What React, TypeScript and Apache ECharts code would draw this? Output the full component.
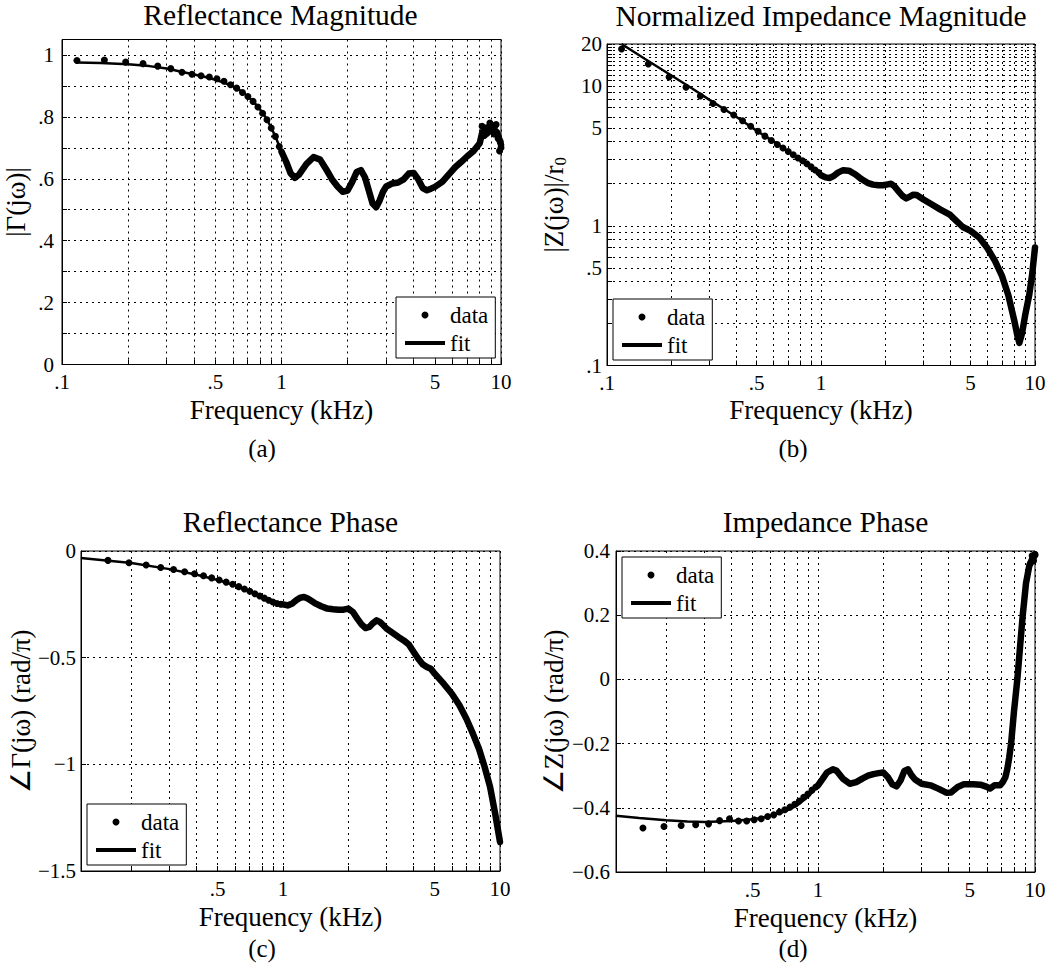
import React, { useEffect, useRef } from "react";
import * as echarts from "echarts";

const FONT = "Liberation Serif";

// ---------- shared frequency axis ----------
const freqGridTicks = [0.1, 0.2, 0.3, 0.4, 0.5, 0.6, 0.7, 0.8, 0.9, 1, 2, 3, 4, 5, 6, 7, 8, 9, 10];
const freqTickLabels = [0.1, 0.5, 1, 5, 10];
const lowDotFreq = [0.117, 0.156, 0.195, 0.234, 0.273, 0.313, 0.352, 0.391, 0.43, 0.469, 0.508, 0.547, 0.586, 0.625, 0.664, 0.703, 0.742, 0.781, 0.82, 0.859, 0.898, 0.938, 0.977];

// ---------- (a) Reflectance magnitude ----------
const aDotFreq = [...lowDotFreq, 8.2, 8.4, 8.6, 8.9, 9.1, 9.3, 9.5, 9.7, 9.85, 9.92, 10.0];
const aDotVal = [0.982, 0.984, 0.977, 0.972, 0.964, 0.956, 0.944, 0.938, 0.933, 0.929, 0.923, 0.915, 0.904, 0.893, 0.879, 0.866, 0.850, 0.832, 0.812, 0.791, 0.764, 0.737, 0.704,
  0.77, 0.74, 0.765, 0.78, 0.77, 0.745, 0.775, 0.73, 0.69, 0.72, 0.70];
const aFitFreq = [0.117, 0.15, 0.2, 0.25, 0.3, 0.35, 0.4, 0.45, 0.5, 0.55, 0.6, 0.65, 0.7, 0.75, 0.8, 0.85, 0.9, 0.95];
const aFitVal = [0.976, 0.974, 0.970, 0.964, 0.956, 0.946, 0.937, 0.929, 0.920, 0.910, 0.899, 0.885, 0.867, 0.847, 0.823, 0.797, 0.764, 0.727];
const aDenseFreq = [1.0, 1.05, 1.1, 1.15, 1.2, 1.3, 1.4, 1.5, 1.6, 1.7, 1.8, 1.9, 2.0, 2.1, 2.2, 2.3, 2.4, 2.5, 2.6, 2.7, 2.8, 2.9, 3.0, 3.2, 3.4, 3.6, 3.8, 4.0, 4.2, 4.4, 4.6, 4.8, 5.0, 5.4, 5.8, 6.2, 6.6, 7.0, 7.5, 8.0, 8.2, 8.4, 8.6, 8.8, 9.0, 9.2, 9.4, 9.6, 9.8, 10.0];
const aDenseVal = [0.688, 0.655, 0.618, 0.603, 0.613, 0.648, 0.670, 0.662, 0.630, 0.598, 0.575, 0.558, 0.562, 0.590, 0.622, 0.628, 0.605, 0.562, 0.520, 0.508, 0.530, 0.558, 0.575, 0.585, 0.588, 0.598, 0.617, 0.619, 0.598, 0.570, 0.563, 0.568, 0.574, 0.590, 0.615, 0.638, 0.655, 0.672, 0.690, 0.715, 0.748, 0.760, 0.745, 0.752, 0.768, 0.772, 0.755, 0.750, 0.730, 0.710];
const aYTicks = [0, 0.1, 0.2, 0.3, 0.4, 0.5, 0.6, 0.7, 0.8, 0.9, 1.0];
const aYLabels = [0, 0.2, 0.4, 0.6, 0.8, 1];

// ---------- (b) Normalized impedance magnitude ----------
const bDotFreq = [...lowDotFreq];
const bDotVal = [18.4, 14.4, 11.6, 9.8, 8.5, 7.5, 6.8, 6.2, 5.65, 5.15, 4.75, 4.38, 4.08, 3.82, 3.6, 3.4, 3.22, 3.06, 2.92, 2.78, 2.64, 2.51, 2.4];
const bFitFreq = [0.117, 0.15, 0.2, 0.25, 0.3, 0.4, 0.5, 0.6, 0.7, 0.8, 0.9];
const bFitVal = [20.0, 15.7, 11.9, 9.6, 8.0, 6.05, 4.8, 4.0, 3.42, 2.98, 2.62];
const bDenseFreq = [1.0, 1.05, 1.1, 1.15, 1.2, 1.27, 1.35, 1.45, 1.55, 1.65, 1.75, 1.85, 1.95, 2.05, 2.12, 2.2, 2.3, 2.4, 2.5, 2.6, 2.7, 2.8, 3.0, 3.3, 3.6, 4.0, 4.3, 4.6, 5.0, 5.5, 6.0, 6.5, 7.0, 7.5, 8.0, 8.3, 8.45, 8.7, 9.0, 9.4, 9.7, 10.0];
const bDenseVal = [2.3, 2.22, 2.2, 2.28, 2.4, 2.5, 2.48, 2.33, 2.15, 2.03, 1.97, 1.95, 1.95, 1.98, 2.0, 1.92, 1.77, 1.64, 1.57, 1.62, 1.67, 1.66, 1.55, 1.42, 1.31, 1.2, 1.08, 0.98, 0.92, 0.82, 0.69, 0.56, 0.44, 0.32, 0.21, 0.16, 0.145, 0.17, 0.23, 0.32, 0.45, 0.7];
const bYTicks = [0.1, 0.2, 0.3, 0.4, 0.5, 0.6, 0.7, 0.8, 0.9, 1, 2, 3, 4, 5, 6, 7, 8, 9, 10, 11, 12, 13, 14, 15, 16, 17, 18, 19, 20];
const bYLabels = [0.1, 0.5, 1, 5, 10, 20];

// ---------- (c) Reflectance phase ----------
const cDotFreq = [...lowDotFreq];
const cDotVal = [-0.033, -0.044, -0.055, -0.066, -0.077, -0.087, -0.097, -0.107, -0.116, -0.126, -0.136, -0.146, -0.156, -0.167, -0.178, -0.189, -0.2, -0.211, -0.221, -0.231, -0.239, -0.246, -0.25];
const cFitFreq = [0.117, 0.2, 0.3, 0.4, 0.5, 0.6, 0.7, 0.8, 0.9];
const cFitVal = [-0.033, -0.056, -0.085, -0.111, -0.136, -0.161, -0.188, -0.214, -0.236];
const cDenseFreq = [1.0, 1.05, 1.1, 1.15, 1.2, 1.25, 1.3, 1.4, 1.5, 1.6, 1.7, 1.8, 1.9, 2.0, 2.1, 2.2, 2.3, 2.4, 2.5, 2.6, 2.7, 2.8, 2.9, 3.0, 3.2, 3.4, 3.6, 3.8, 4.0, 4.2, 4.4, 4.6, 4.8, 5.0, 5.5, 6.0, 6.5, 7.0, 7.5, 8.0, 8.5, 9.0, 9.5, 10.0];
const cDenseVal = [-0.25, -0.255, -0.247, -0.231, -0.219, -0.216, -0.223, -0.244, -0.259, -0.27, -0.273, -0.275, -0.275, -0.27, -0.286, -0.317, -0.344, -0.361, -0.356, -0.338, -0.325, -0.333, -0.348, -0.364, -0.384, -0.403, -0.419, -0.438, -0.473, -0.505, -0.531, -0.544, -0.552, -0.575, -0.622, -0.669, -0.723, -0.786, -0.856, -0.927, -1.013, -1.106, -1.231, -1.364];
const cYTicks = [-1.5, -1, -0.5, 0];

// ---------- (d) Impedance phase ----------
const dDotFreq = [...lowDotFreq, 9.5, 9.7, 9.85, 10.0];
const dDotVal = [-0.448, -0.463, -0.458, -0.455, -0.453, -0.45, -0.44, -0.434, -0.441, -0.441, -0.437, -0.434, -0.427, -0.422, -0.413, -0.406, -0.398, -0.389, -0.379, -0.367, -0.357, -0.345, -0.335,
  0.36, 0.385, 0.37, 0.39];
const dFitFreq = [0.117, 0.15, 0.2, 0.25, 0.3, 0.4, 0.5, 0.6, 0.7, 0.8, 0.9];
const dFitVal = [-0.425, -0.432, -0.439, -0.443, -0.444, -0.441, -0.436, -0.426, -0.412, -0.393, -0.366];
const dDenseFreq = [1.0, 1.05, 1.1, 1.17, 1.22, 1.3, 1.4, 1.5, 1.6, 1.7, 1.8, 1.9, 2.0, 2.1, 2.2, 2.3, 2.4, 2.5, 2.6, 2.7, 2.8, 3.0, 3.3, 3.6, 3.9, 4.1, 4.4, 4.7, 5.2, 5.6, 6.0, 6.2, 6.5, 6.9, 7.1, 7.3, 7.45, 7.6, 7.76, 8.0, 8.29, 8.53, 8.78, 9.09, 9.42, 9.7, 10.0];
const dDenseVal = [-0.33, -0.31, -0.29, -0.28, -0.285, -0.309, -0.325, -0.32, -0.309, -0.3, -0.295, -0.292, -0.29, -0.305, -0.327, -0.333, -0.315, -0.285, -0.28, -0.299, -0.312, -0.325, -0.33, -0.341, -0.353, -0.352, -0.335, -0.327, -0.327, -0.328, -0.335, -0.34, -0.33, -0.33, -0.32, -0.305, -0.28, -0.245, -0.2, -0.1, 0.0, 0.1, 0.2, 0.3, 0.355, 0.375, 0.386];
const dYTicks = [-0.6, -0.4, -0.2, 0, 0.2, 0.4];

// ---------- text ----------
const titles = ["Reflectance Magnitude", "Normalized Impedance Magnitude", "Reflectance Phase", "Impedance Phase"];
const subLabels = ["(a)", "(b)", "(c)", "(d)"];
const xName = "Frequency (kHz)";
const yNames = ["|Γ(jω)|", "|Z(jω)|/r{sub|0}", "∠Γ(jω) (rad/π)", "∠Z(jω) (rad/π)"];

const zip = (xs: number[], ys: number[]) => xs.map((x, i) => [x, ys[i]]);
const fmtDotless = (v: number) => {
  if (v === 0) return "0";
  const s = String(+v.toFixed(4));
  return s.replace(/^0\./, ".");
};
const fmtSigned = (v: number) => {
  const a = Math.abs(+v.toFixed(4));
  return v < 0 ? "\u2212" + String(a) : String(a);
};

type Panel = {
  grid: { left: number; top: number; width: number; height: number };
  xMin: number;
  yType: string;
  yMin: number;
  yMax: number;
  yTicks: number[];
  yLabels: number[];
  yFmt: (v: number) => string;
  yNameGap: number;
  yLabelMargin: number;
  xNameGap: number;
  dot: number[][];
  dense: number[][];
  fit: number[][];
  legend: { left: number; top: number };
  title: [number, number];
  sub: [number, number];
};

const panels: Panel[] = [
  {
    grid: { left: 60, top: 39.5, width: 441, height: 325 },
    xMin: 0.1, yType: "value", yMin: 0, yMax: 1.05, yTicks: aYTicks, yLabels: aYLabels, yFmt: fmtDotless,
    yNameGap: 31, yLabelMargin: 8, xNameGap: 32,
    dot: zip(aDotFreq, aDotVal), dense: zip(aDenseFreq, aDenseVal), fit: zip([...aFitFreq, ...aDenseFreq], [...aFitVal, ...aDenseVal]),
    legend: { left: 396, top: 297 }, title: [280.5, 15], sub: [262, 448],
  },
  {
    grid: { left: 607, top: 44, width: 428, height: 321.5 },
    xMin: 0.1, yType: "log", yMin: 0.1, yMax: 20, yTicks: bYTicks, yLabels: bYLabels, yFmt: fmtDotless,
    yNameGap: 38, yLabelMargin: 5, xNameGap: 31,
    dot: zip(bDotFreq, bDotVal), dense: zip(bDenseFreq, bDenseVal), fit: zip([...bFitFreq, ...bDenseFreq], [...bFitVal, ...bDenseVal]),
    legend: { left: 613, top: 299 }, title: [821, 16], sub: [793, 448],
  },
  {
    grid: { left: 81, top: 551, width: 419, height: 320 },
    xMin: 0.1172, yType: "value", yMin: -1.5, yMax: 0, yTicks: cYTicks, yLabels: cYTicks, yFmt: fmtSigned,
    yNameGap: 45, yLabelMargin: 5, xNameGap: 32,
    dot: zip(cDotFreq, cDotVal), dense: zip(cDenseFreq, cDenseVal), fit: zip([...cFitFreq, ...cDenseFreq], [...cFitVal, ...cDenseVal]),
    legend: { left: 87, top: 804 }, title: [290.5, 522], sub: [262, 948],
  },
  {
    grid: { left: 616, top: 551, width: 419, height: 321 },
    xMin: 0.1172, yType: "value", yMin: -0.6, yMax: 0.4, yTicks: dYTicks, yLabels: dYTicks, yFmt: fmtSigned,
    yNameGap: 47, yLabelMargin: 6, xNameGap: 32,
    dot: zip(dDotFreq, dDotVal), dense: zip(dDenseFreq, dDenseVal), fit: zip([...dFitFreq, ...dDenseFreq], [...dFitVal, ...dDenseVal]),
    legend: { left: 622, top: 557 }, title: [825.5, 522], sub: [793, 948],
  },
];

const gridLineStyle = { color: "#000", width: 1, type: [2, 4] as number[] };

function buildOption() {
  const grid = panels.map((p) => ({ ...p.grid, show: true, borderColor: "#000", borderWidth: 1, backgroundColor: "transparent" }));
  const xAxis = panels.map((p, i) => ({
    gridIndex: i,
    type: "log",
    logBase: 10,
    min: p.xMin,
    max: 10,
    name: xName,
    nameLocation: "middle",
    nameGap: p.xNameGap,
    nameMoveOverlap: false,
    nameTextStyle: { fontFamily: FONT, fontSize: 27, color: "#000" },
    axisLine: { show: true, onZero: false, lineStyle: { color: "#000", width: 1 } },
    axisTick: { show: true, inside: true, length: 5, customValues: freqGridTicks, lineStyle: { color: "#000", width: 1 } },
    axisLabel: { customValues: freqTickLabels, formatter: fmtDotless, fontFamily: FONT, fontSize: 21, color: "#000", margin: 7 },
    splitLine: { show: true, lineStyle: gridLineStyle },
    minorTick: { show: false },
    minorSplitLine: { show: false },
  }));
  const yAxis = panels.map((p, i) => ({
    gridIndex: i,
    type: p.yType,
    ...(p.yType === "log" ? { logBase: 10 } : {}),
    min: p.yMin,
    max: p.yMax,
    name: yNames[i],
    nameLocation: "middle",
    nameGap: p.yNameGap,
    nameMoveOverlap: false,
    nameTextStyle: {
      fontFamily: FONT, fontSize: 27, color: "#000", lineHeight: 30,
      rich: { sub: { fontFamily: FONT, fontSize: 17, color: "#000", lineHeight: 14, verticalAlign: "bottom" } },
    },
    axisLine: { show: true, onZero: false, lineStyle: { color: "#000", width: 1 } },
    axisTick: { show: true, inside: true, length: 5, customValues: p.yTicks, lineStyle: { color: "#000", width: 1 } },
    axisLabel: { customValues: p.yLabels, formatter: p.yFmt, fontFamily: FONT, fontSize: 21, color: "#000", margin: p.yLabelMargin },
    splitLine: { show: true, lineStyle: gridLineStyle },
    minorTick: { show: false },
    minorSplitLine: { show: false },
  }));
  const series: any[] = [];
  panels.forEach((p, i) => {
    series.push({
      type: "scatter", name: "data", xAxisIndex: i, yAxisIndex: i, data: p.dot,
      symbol: "circle", symbolSize: 7, itemStyle: { color: "#000", opacity: 1 }, z: 4, silent: true,
    });
    series.push({
      type: "line", name: "data", xAxisIndex: i, yAxisIndex: i, data: p.dense,
      symbol: "none", showSymbol: false, lineStyle: { color: "#000", width: 6.5, cap: "round", join: "round" }, itemStyle: { color: "#000" }, z: 3, silent: true,
    });
    series.push({
      type: "line", name: "fit", xAxisIndex: i, yAxisIndex: i, data: p.fit,
      symbol: "none", showSymbol: false, lineStyle: { color: "#000", width: 2.5 }, itemStyle: { color: "#000" }, z: 5, silent: true,
    });
  });
  const legend = panels.map((p) => ({
    orient: "vertical",
    left: p.legend.left,
    top: p.legend.top,
    itemWidth: 40,
    itemHeight: 7,
    itemGap: 4,
    padding: [6, 7, 3, 7],
    backgroundColor: "#fff",
    borderColor: "#000",
    borderWidth: 1,
    borderRadius: 0,
    selectedMode: false,
    lineStyle: { width: 4 },
    textStyle: { fontFamily: FONT, fontSize: 23, color: "#000", lineHeight: 24 },
    data: [
      { name: "data", itemStyle: { color: "#000", opacity: 1 } },
      { name: "fit", itemStyle: { opacity: 0 }, lineStyle: { width: 4, color: "#000" } },
    ],
    z: 10,
  }));
  const texts: any[] = [];
  panels.forEach((p, i) => {
    texts.push({
      type: "text", x: p.title[0], y: p.title[1], silent: true,
      style: { text: titles[i], fontFamily: FONT, fontSize: 29.5, fill: "#000", align: "center", verticalAlign: "middle", textAlign: "center", textVerticalAlign: "middle" },
    });
    texts.push({
      type: "text", x: p.sub[0], y: p.sub[1], silent: true,
      style: { text: subLabels[i], fontFamily: FONT, fontSize: 25, fill: "#000", align: "center", verticalAlign: "middle", textAlign: "center", textVerticalAlign: "middle" },
    });
  });
  return {
    animation: false,
    backgroundColor: "#fff",
    textStyle: { fontFamily: FONT, color: "#000" },
    grid, xAxis, yAxis, series, legend,
    graphic: texts,
  };
}

export default function App() {
  const ref = useRef<HTMLDivElement>(null);
  useEffect(() => {
    if (!ref.current) return;
    const chart = echarts.init(ref.current, undefined, { renderer: "svg" });
    chart.setOption(buildOption() as any);
    return () => chart.dispose();
  }, []);
  return <div ref={ref} style={{ position: "absolute", left: 0, top: 0, width: 1050, height: 969, background: "#fff" }} />;
}
